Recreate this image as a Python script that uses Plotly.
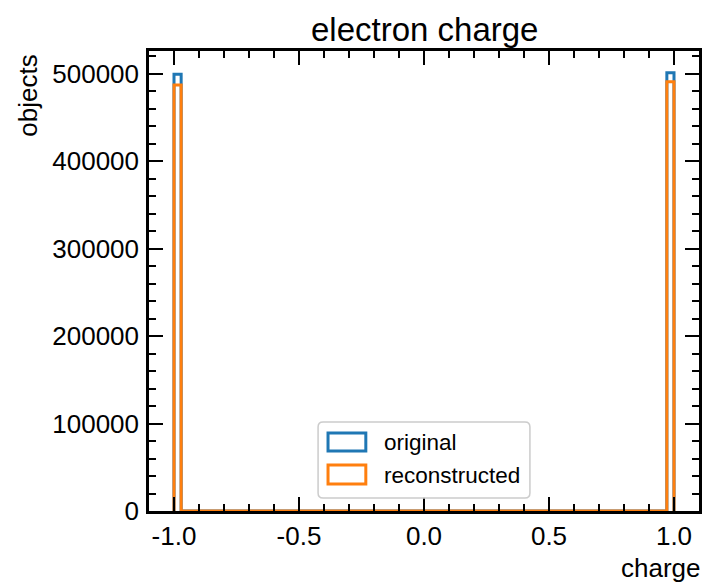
import plotly.graph_objects as go

# ---- data ----
charge_edges = [-1.0, -0.9714, 0.9714, 1.0]        # bin edges; the middle span holds only empty bins
original_counts = [499500, 0, 501200]
reconstructed_counts = [487200, 0, 490900]

x_tick_vals = [-1.0, -0.5, 0.0, 0.5, 1.0]
x_tick_text = ["-1.0", "-0.5", "0.0", "0.5", "1.0"]
y_tick_vals = [0, 100000, 200000, 300000, 400000, 500000]
y_tick_text = ["0", "100000", "200000", "300000", "400000", "500000"]

series_names = ["original", "reconstructed"]
series_colors = ["#1f77b4", "#ff7f0e"]

# ---- layout geometry (pixels) ----
W, H = 704, 582
L, R, T, B = 149, 702, 51, 511
PW, PH = R - L, B - T
FONT = "Liberation Sans"


def px(xp):
    return (xp - L) / PW


def py(yp):
    return (B - yp) / PH


def step_xy(edges, counts):
    xs = [edges[0]] + list(edges)
    ys = [0] + list(counts) + [0]
    return xs, ys


fig = go.Figure()
for name, counts, color in zip(series_names, [original_counts, reconstructed_counts], series_colors):
    xs, ys = step_xy(charge_edges, counts)
    fig.add_trace(go.Scatter(x=xs, y=ys, mode="lines", line=dict(shape="hv", color=color, width=3),
                             name=name, showlegend=False, hoverinfo="skip"))

axis_common = dict(
    showline=True, linecolor="black", linewidth=2.5, mirror="ticks",
    ticks="inside", ticklen=14, tickwidth=2, tickcolor="black",
    showgrid=False, zeroline=False,
    tickfont=dict(family=FONT, size=26, color="black"),
)

fig.update_xaxes(range=[-1.1, 1.1], tickmode="array", tickvals=x_tick_vals, ticktext=x_tick_text,
                 minor=dict(ticks="inside", ticklen=7, tickwidth=1.5, tickcolor="black", dtick=0.1, tick0=0,
                            showgrid=False),
                 **axis_common)
fig.update_yaxes(range=[0, 526000], tickmode="array", tickvals=y_tick_vals, ticktext=y_tick_text,
                 ticklabelstandoff=2,
                 minor=dict(ticks="inside", ticklen=7, tickwidth=1.5, tickcolor="black", dtick=20000, tick0=0,
                            showgrid=False),
                 **axis_common)

shapes = []
annotations = []


def rounded_rect(x0, y0, x1, y1, r):
    # pixel coordinates -> paper path
    rx, ry = r / PW, r / PH
    a0, a1 = px(x0), px(x1)
    b0, b1 = py(y1), py(y0)  # bottom, top in paper
    return (f"M {a0+rx},{b0} L {a1-rx},{b0} Q {a1},{b0} {a1},{b0+ry} "
            f"L {a1},{b1-ry} Q {a1},{b1} {a1-rx},{b1} L {a0+rx},{b1} Q {a0},{b1} {a0},{b1-ry} "
            f"L {a0},{b0+ry} Q {a0},{b0} {a0+rx},{b0} Z")


# legend box
shapes.append(dict(type="path", xref="paper", yref="paper", path=rounded_rect(319, 422, 532, 498, 5),
                   fillcolor="rgba(255,255,255,0.8)", line=dict(color="#cccccc", width=1.5), layer="above"))
legend_rows = [(433, 451, 442), (465, 484, 475)]
for (y0, y1, yc), name, color in zip(legend_rows, series_names, series_colors):
    shapes.append(dict(type="rect", xref="paper", yref="paper", x0=px(329), x1=px(367), y0=py(y1), y1=py(y0),
                       line=dict(color=color, width=3), fillcolor="rgba(0,0,0,0)", layer="above"))
    annotations.append(dict(text=name, xref="paper", yref="paper", x=px(383), y=py(yc), xanchor="left",
                            yanchor="middle", showarrow=False, font=dict(family=FONT, size=22.5, color="black")))

# title and axis labels
annotations.append(dict(text="electron charge", xref="paper", yref="paper", x=0.5, y=py(29), xanchor="center",
                        yanchor="middle", showarrow=False, font=dict(family=FONT, size=33, color="black")))
annotations.append(dict(text="charge", xref="paper", yref="paper", x=1.0, y=py(568), xanchor="right",
                        yanchor="middle", xshift=4, showarrow=False, font=dict(family=FONT, size=26, color="black")))
annotations.append(dict(text="objects", xref="paper", yref="paper", x=px(27), y=py(96), xanchor="center",
                        yanchor="middle", textangle=-90, showarrow=False,
                        font=dict(family=FONT, size=26, color="black")))

fig.update_layout(
    width=W, height=H,
    margin=dict(l=L, r=W - R, t=T, b=H - B, pad=0),
    paper_bgcolor="white", plot_bgcolor="white",
    showlegend=False,
    shapes=shapes, annotations=annotations,
)

fig.write_html("out.html")
